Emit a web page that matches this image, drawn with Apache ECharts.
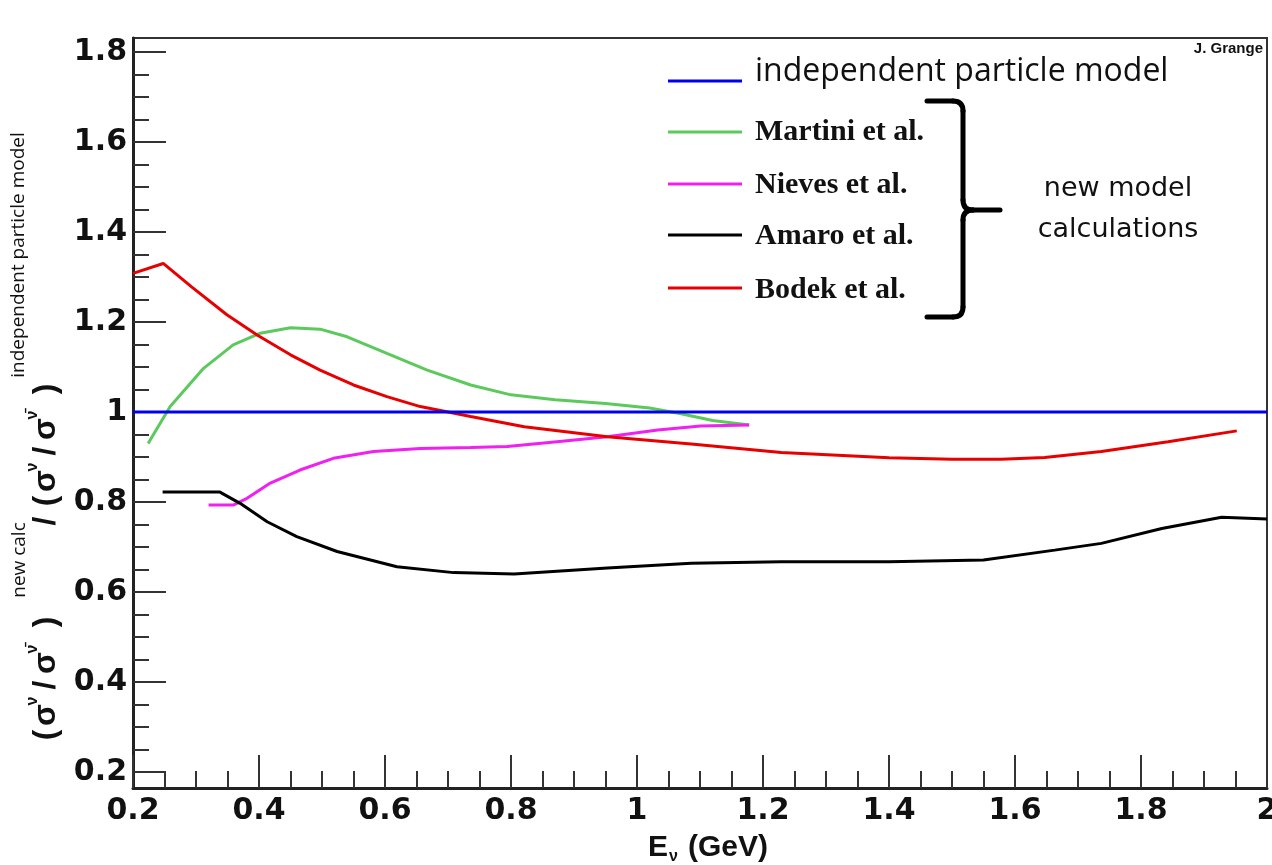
<!DOCTYPE html>
<html>
<head>
<meta charset="utf-8">
<script src="https://cdn.jsdelivr.net/npm/echarts@6/dist/echarts.min.js"></script>
<style>html,body{margin:0;padding:0;background:#fff;overflow:hidden}#c{width:1272px;height:865px}</style>
</head>
<body>
<div id="c"></div>
<script>
// ---------- data ----------
const xMajorTicks = [0.2, 0.4, 0.6, 0.8, 1.0, 1.2, 1.4, 1.6, 1.8, 2.0];
const xMinorTicks = [0.25, 0.3, 0.35, 0.45, 0.5, 0.55, 0.65, 0.7, 0.75, 0.85, 0.9, 0.95,
  1.05, 1.1, 1.15, 1.25, 1.3, 1.35, 1.45, 1.5, 1.55, 1.65, 1.7, 1.75, 1.85, 1.9, 1.95];
const yMajorTicks = [0.2, 0.4, 0.6, 0.8, 1.0, 1.2, 1.4, 1.6, 1.8];
const yMinorTicks = [0.25, 0.3, 0.35, 0.45, 0.5, 0.55, 0.65, 0.7, 0.75, 0.85, 0.9, 0.95,
  1.05, 1.1, 1.15, 1.25, 1.3, 1.35, 1.45, 1.5, 1.55, 1.65, 1.7, 1.75];

const seriesNames = ['independent particle model', 'Martini et al.', 'Nieves et al.', 'Amaro et al.', 'Bodek et al.'];
const seriesColors = ['#0000f0', '#5cc95c', '#f020f0', '#000000', '#e80000'];

const independent = [[0.2, 1.0], [2.0, 1.0]];
const martini = [[0.224, 0.930], [0.259, 1.012], [0.312, 1.097], [0.359, 1.149], [0.402, 1.175],
  [0.450, 1.187], [0.497, 1.184], [0.540, 1.167], [0.603, 1.130], [0.667, 1.093], [0.736, 1.060],
  [0.800, 1.038], [0.870, 1.027], [0.950, 1.019], [1.020, 1.009], [1.070, 0.996], [1.120, 0.981],
  [1.178, 0.971]];
const nieves = [[0.320, 0.793], [0.359, 0.793], [0.381, 0.808], [0.418, 0.842], [0.465, 0.871],
  [0.518, 0.897], [0.582, 0.912], [0.656, 0.919], [0.736, 0.921], [0.794, 0.923], [0.873, 0.934],
  [0.953, 0.945], [1.033, 0.960], [1.101, 0.969], [1.178, 0.971]];
const amaro = [[0.247, 0.822], [0.338, 0.822], [0.370, 0.797], [0.413, 0.756], [0.460, 0.723],
  [0.524, 0.690], [0.619, 0.656], [0.709, 0.643], [0.805, 0.640], [0.953, 0.653], [1.086, 0.664],
  [1.229, 0.667], [1.400, 0.667], [1.550, 0.671], [1.663, 0.693], [1.737, 0.708], [1.833, 0.741],
  [1.928, 0.766], [2.000, 0.762]];
const bodek = [[0.200, 1.308], [0.248, 1.330], [0.293, 1.278], [0.349, 1.216], [0.397, 1.171],
  [0.450, 1.127], [0.497, 1.093], [0.550, 1.060], [0.603, 1.034], [0.656, 1.012], [0.736, 0.990],
  [0.821, 0.967], [0.953, 0.945], [1.086, 0.929], [1.229, 0.910], [1.400, 0.898], [1.500, 0.895],
  [1.578, 0.895], [1.647, 0.899], [1.737, 0.912], [1.843, 0.934], [1.952, 0.958]];
const seriesData = [independent, martini, nieves, amaro, bodek];

// ---------- chart ----------
const chart = echarts.init(document.getElementById('c'), null, {renderer: 'canvas', width: 1272, height: 865});
const tickFont = {fontFamily: '"DejaVu Sans"', fontWeight: 'bold', fontSize: 30, color: '#111'};
const R = Math.PI / 2;

function vtext(txt, x, y, font) {
  return {type: 'text', x: x, y: y, rotation: R, silent: true,
    style: {text: txt, font: font, fill: '#111', textAlign: 'center', textVerticalAlign: 'middle'}};
}
function seg(x1, y1, x2, y2) {
  return {type: 'line', silent: true, shape: {x1: x1, y1: y1, x2: x2, y2: y2},
    style: {stroke: '#000', lineWidth: 5, lineCap: 'round'}};
}
function curve(x1, y1, cx, cy, x2, y2) {
  return {type: 'bezierCurve', silent: true, shape: {x1: x1, y1: y1, cpx1: cx, cpy1: cy, x2: x2, y2: y2},
    style: {stroke: '#000', lineWidth: 5, fill: null, lineCap: 'round'}};
}
const mainF = 'bold 32px "Liberation Sans", "DejaVu Sans"';
const supF = 'bold 16px "Liberation Sans", "DejaVu Sans"';
const noteF = '19px "Open Sans"';
const mx = 46, sx = 33;

const graphics = [
  // y-axis title, part 1
  vtext('(', mx, 735, mainF), vtext('σ', mx, 715, mainF), vtext('ν', sx, 701, supF),
  vtext('/', mx, 685, mainF), vtext('σ', mx, 663, mainF), vtext('ν\u0304', sx, 649, supF),
  vtext(')', mx, 622, mainF),
  vtext('new calc', 20, 560, noteF),
  // part 2
  vtext('/', mx, 521, mainF), vtext('(', mx, 501, mainF), vtext('σ', mx, 481, mainF),
  vtext('ν', sx, 467, supF), vtext('/', mx, 451, mainF), vtext('σ', mx, 429, mainF),
  vtext('ν\u0304', sx, 415, supF), vtext(')', mx, 389, mainF),
  vtext('independent particle model', 19, 255, noteF),
  // x-axis title
  {type: 'text', x: 648, y: 848, silent: true, style: {text: 'E', font: 'bold 30px "Liberation Sans"', fill: '#111', textAlign: 'left', textVerticalAlign: 'middle'}},
  {type: 'text', x: 669, y: 857, silent: true, style: {text: 'ν', font: 'bold 16px "Liberation Sans"', fill: '#111', textAlign: 'left', textVerticalAlign: 'middle'}},
  {type: 'text', x: 688, y: 848, silent: true, style: {text: '(GeV)', font: 'bold 30px "Liberation Sans"', fill: '#111', textAlign: 'left', textVerticalAlign: 'middle'}},
  // author
  {type: 'text', x: 1263, y: 49, silent: true, style: {text: 'J. Grange', font: 'bold 15px "Liberation Sans"', fill: '#111', textAlign: 'right', textVerticalAlign: 'middle'}},
  // brace
  seg(927, 101, 953, 101), curve(953, 101, 963, 101, 963, 111), seg(963, 111, 963, 200),
  curve(963, 200, 963, 210, 973, 210), seg(973, 210, 1000, 210), curve(973, 210, 963, 210, 963, 220),
  seg(963, 220, 963, 307), curve(963, 307, 963, 317, 953, 317), seg(953, 317, 927, 317),
  {type: 'text', x: 1118, y: 189, silent: true, style: {text: 'new model', font: '27px "DejaVu Sans"', fill: '#111', textAlign: 'center', textVerticalAlign: 'middle'}},
  {type: 'text', x: 1118, y: 230, silent: true, style: {text: 'calculations', font: '27px "DejaVu Sans"', fill: '#111', textAlign: 'center', textVerticalAlign: 'middle'}}
];

// legend drawn as graphic (names/colours from the arrays above)
const legendY = [81, 132, 184, 235, 288];
const legendTextY = [72, 132, 185, 236, 290];
seriesNames.forEach(function (name, i) {
  graphics.push({type: 'line', silent: true, shape: {x1: 668, y1: legendY[i], x2: 742, y2: legendY[i]},
    style: {stroke: seriesColors[i], lineWidth: 3}});
  graphics.push({type: 'text', x: 755, y: legendTextY[i], silent: true,
    style: {text: name, font: i === 0 ? '32px "Open Sans"' : 'bold 30px "Liberation Serif"', fill: '#111',
      textAlign: 'left', textVerticalAlign: 'middle'}});
});

const option = {
  backgroundColor: '#fff',
  animation: false,
  grid: {left: 133, right: 5, top: 38, bottom: 77, show: true, borderColor: '#333', borderWidth: 2,
    backgroundColor: 'transparent', containLabel: false, outerBoundsMode: 'none'},
  xAxis: [
    {type: 'value', min: 0.2, max: 2.0, position: 'bottom',
      axisLine: {show: true, onZero: false, lineStyle: {color: '#222', width: 3}},
      axisTick: {show: true, inside: true, length: 33, customValues: xMajorTicks, lineStyle: {color: '#333', width: 2}},
      axisLabel: {show: true, customValues: xMajorTicks, margin: 8, hideOverlap: false, ...tickFont},
      splitLine: {show: false}},
    {type: 'value', min: 0.2, max: 2.0, position: 'bottom',
      axisLine: {show: false, onZero: false},
      axisTick: {show: true, inside: true, length: 17, customValues: xMinorTicks, lineStyle: {color: '#333', width: 2}},
      axisLabel: {show: false}, splitLine: {show: false}}
  ],
  yAxis: [
    {type: 'value', min: 0.1644, max: 1.831, position: 'left',
      axisLine: {show: true, onZero: false, lineStyle: {color: '#222', width: 3}},
      axisTick: {show: true, inside: true, length: 33, customValues: yMajorTicks, lineStyle: {color: '#333', width: 2}},
      axisLabel: {show: true, customValues: yMajorTicks, margin: 6, ...tickFont},
      splitLine: {show: false}},
    {type: 'value', min: 0.1644, max: 1.831, position: 'left',
      axisLine: {show: false, onZero: false},
      axisTick: {show: true, inside: true, length: 16, customValues: yMinorTicks, lineStyle: {color: '#333', width: 2}},
      axisLabel: {show: false}, splitLine: {show: false}}
  ],
  series: seriesNames.map(function (name, i) {
    return {name: name, type: 'line', xAxisIndex: 0, yAxisIndex: 0, data: seriesData[i],
      showSymbol: false, symbol: 'none', smooth: false, clip: true,
      lineStyle: {color: seriesColors[i], width: 3}, itemStyle: {color: seriesColors[i]},
      z: i === 0 ? 3 : 2};
  }),
  graphic: graphics
};
chart.setOption(option);
</script>
</body>
</html>
